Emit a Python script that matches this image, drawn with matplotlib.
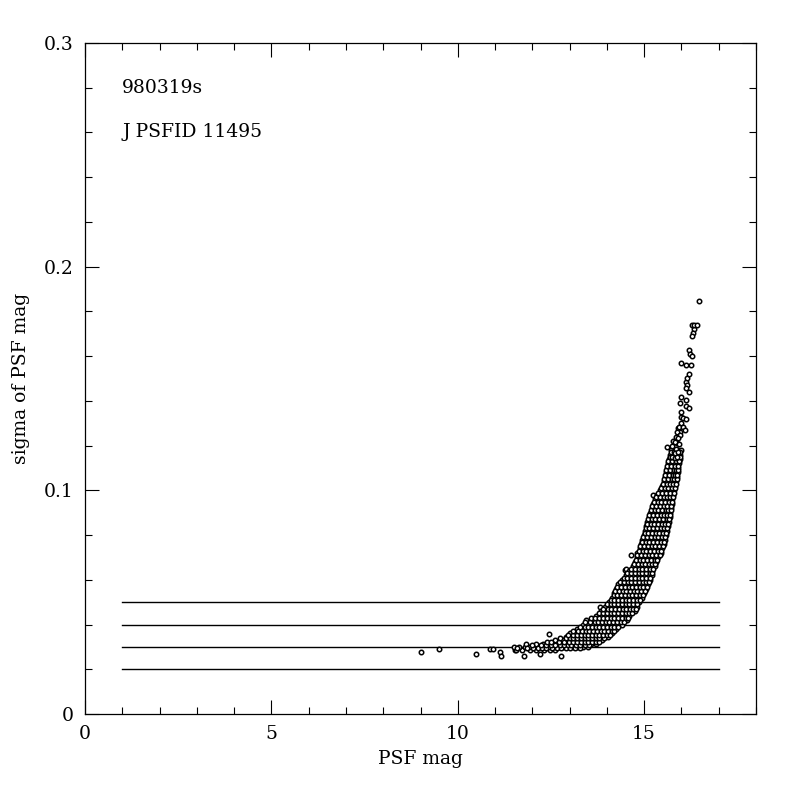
import matplotlib
matplotlib.use('Agg')
import matplotlib.pyplot as plt

# reference levels drawn across the plot
ref_levels = [0.02, 0.03, 0.04, 0.05]
ref_xmin, ref_xmax = 1, 17

# stragglers at the bright end / off-band points
out_mag = [9.0, 9.49, 10.5, 10.86, 10.95, 11.13, 11.15, 11.53, 11.78, 12.2,
           12.45, 12.76, 13.7, 13.81, 14.48, 14.52, 14.66, 15.23]
out_sig = [0.0279, 0.0289, 0.0268, 0.0289, 0.0289, 0.0279, 0.026, 0.0285, 0.026, 0.027,
           0.0358, 0.026, 0.0319, 0.048, 0.0644, 0.065, 0.0711, 0.098]

# main locus, read row by row (sigma, mags)
band_rows = [
    (0.0285, [11.55, 11.72, 11.95, 12.1, 12.3, 12.48, 12.62]),
    (0.0300, [11.5, 11.64, 11.8, 11.9, 12.05, 12.2, 12.32, 12.45, 12.58, 12.7, 12.82, 12.95, 13.08, 13.2, 13.35, 13.48]),
    (0.0315, [11.82, 12.1, 12.28, 12.42, 12.55, 12.66, 12.78, 12.9, 13.0, 13.1, 13.22, 13.32, 13.45, 13.58, 13.7]),
    (0.0330, [12.6, 12.82, 12.95, 13.05, 13.15, 13.25, 13.35, 13.45, 13.55, 13.65, 13.75, 13.88]),
    (0.0345, [12.9, 13.05, 13.15, 13.25, 13.35, 13.45, 13.55, 13.65, 13.75, 13.85, 13.95, 14.02]),
    (0.0360, [13.02, 13.15, 13.28, 13.38, 13.48, 13.58, 13.68, 13.78, 13.88, 13.98, 14.08, 14.15]),
    (0.0380, [13.2, 13.32, 13.45, 13.55, 13.65, 13.75, 13.85, 13.95, 14.05, 14.15, 14.25]),
    (0.0400, [13.35, 13.5, 13.62, 13.72, 13.82, 13.92, 14.02, 14.12, 14.22, 14.32, 14.4]),
    (0.0420, [13.45, 13.6, 13.74, 13.85, 13.95, 14.05, 14.15, 14.25, 14.35, 14.45, 14.55]),
    (0.0440, [13.7, 13.82, 13.94, 14.04, 14.14, 14.24, 14.34, 14.44, 14.52, 14.6]),
    (0.0460, [13.85, 13.97, 14.08, 14.18, 14.28, 14.38, 14.48, 14.58, 14.67, 14.75]),
    (0.0480, [13.95, 14.06, 14.16, 14.26, 14.36, 14.46, 14.56, 14.66, 14.74, 14.8]),
    (0.0500, [14.05, 14.15, 14.25, 14.35, 14.45, 14.55, 14.65, 14.75, 14.85]),
    (0.0520, [14.15, 14.25, 14.35, 14.45, 14.55, 14.65, 14.75, 14.85, 14.95]),
    (0.0540, [14.2, 14.3, 14.4, 14.5, 14.6, 14.7, 14.8, 14.9, 15.0]),
    (0.0560, [14.25, 14.36, 14.46, 14.56, 14.66, 14.76, 14.86, 14.96, 15.05]),
    (0.0580, [14.3, 14.42, 14.52, 14.62, 14.72, 14.82, 14.92, 15.02, 15.1]),
    (0.0600, [14.4, 14.5, 14.6, 14.7, 14.8, 14.9, 15.0, 15.08, 15.15]),
    (0.0620, [14.5, 14.6, 14.7, 14.8, 14.9, 15.0, 15.1, 15.2]),
    (0.0640, [14.6, 14.7, 14.8, 14.9, 15.0, 15.1, 15.22]),
    (0.0660, [14.7, 14.8, 14.9, 15.0, 15.1, 15.2, 15.28]),
    (0.0680, [14.75, 14.86, 14.96, 15.06, 15.16, 15.25, 15.32]),
    (0.0700, [14.8, 14.9, 15.0, 15.1, 15.2, 15.3, 15.38]),
    (0.0720, [14.82, 14.94, 15.04, 15.14, 15.24, 15.34, 15.45]),
    (0.0740, [14.88, 14.98, 15.08, 15.18, 15.28, 15.38, 15.48]),
    (0.0760, [14.92, 15.02, 15.12, 15.22, 15.32, 15.42, 15.52]),
    (0.0780, [14.95, 15.06, 15.16, 15.26, 15.36, 15.46, 15.55]),
    (0.0800, [15.0, 15.1, 15.2, 15.3, 15.4, 15.5, 15.58]),
    (0.0820, [15.02, 15.13, 15.23, 15.33, 15.43, 15.52, 15.6]),
    (0.0840, [15.05, 15.16, 15.26, 15.36, 15.46, 15.55, 15.63]),
    (0.0860, [15.08, 15.19, 15.29, 15.39, 15.49, 15.58, 15.66]),
    (0.0880, [15.12, 15.22, 15.32, 15.42, 15.52, 15.61, 15.68]),
    (0.0900, [15.15, 15.25, 15.35, 15.45, 15.55, 15.63, 15.7]),
    (0.0920, [15.2, 15.3, 15.4, 15.5, 15.6, 15.66, 15.72]),
    (0.0940, [15.24, 15.34, 15.44, 15.54, 15.64, 15.74]),
    (0.0960, [15.28, 15.38, 15.48, 15.58, 15.68, 15.76]),
    (0.0980, [15.35, 15.45, 15.55, 15.65, 15.72, 15.78]),
    (0.1000, [15.42, 15.52, 15.62, 15.72, 15.8]),
    (0.1020, [15.48, 15.58, 15.68, 15.76, 15.84]),
    (0.1040, [15.52, 15.62, 15.72, 15.8, 15.86]),
    (0.1060, [15.55, 15.65, 15.75, 15.82, 15.88]),
    (0.1080, [15.58, 15.68, 15.78, 15.85, 15.9]),
    (0.1100, [15.6, 15.7, 15.8, 15.87, 15.92]),
    (0.1120, [15.63, 15.73, 15.83, 15.93]),
    (0.1140, [15.66, 15.76, 15.86, 15.95]),
    (0.1160, [15.7, 15.8, 15.9, 15.96]),
    (0.1180, [15.72, 15.82, 15.92, 15.98]),
]

# in-between rows of the same locus
band_rows_b = [
    (0.0293, [11.6, 11.85, 12.02, 12.15, 12.26, 12.38, 12.52, 12.66, 12.76, 12.9, 13.02, 13.14, 13.28]),
    (0.0308, [12.0, 12.24, 12.37, 12.5, 12.62, 12.74, 12.86, 12.97, 13.05, 13.16, 13.27, 13.4, 13.52]),
    (0.0323, [12.4, 12.5, 12.72, 12.86, 12.98, 13.1, 13.2, 13.3, 13.4, 13.5, 13.6, 13.7, 13.8]),
    (0.0338, [12.75, 12.9, 13.0, 13.1, 13.2, 13.3, 13.4, 13.5, 13.6, 13.7, 13.8, 13.92]),
    (0.0352, [12.96, 13.1, 13.2, 13.3, 13.4, 13.5, 13.6, 13.7, 13.8, 13.9, 14.0, 14.08]),
    (0.0370, [13.1, 13.22, 13.33, 13.43, 13.53, 13.63, 13.73, 13.83, 13.93, 14.03, 14.13, 14.2]),
    (0.0390, [13.28, 13.4, 13.5, 13.6, 13.7, 13.8, 13.9, 14.0, 14.1, 14.2, 14.3]),
    (0.0410, [13.4, 13.55, 13.67, 13.77, 13.87, 13.97, 14.07, 14.17, 14.27, 14.37, 14.47]),
    (0.0430, [13.58, 13.68, 13.8, 13.9, 14.0, 14.1, 14.2, 14.3, 14.4, 14.5, 14.57]),
    (0.0450, [13.78, 13.9, 14.0, 14.1, 14.2, 14.3, 14.4, 14.5, 14.6, 14.68]),
    (0.0470, [13.9, 14.02, 14.12, 14.22, 14.32, 14.42, 14.52, 14.62, 14.71, 14.78]),
    (0.0490, [14.0, 14.1, 14.2, 14.3, 14.4, 14.5, 14.6, 14.7, 14.8]),
    (0.0510, [14.1, 14.2, 14.3, 14.4, 14.5, 14.6, 14.7, 14.8, 14.9]),
    (0.0530, [14.18, 14.28, 14.38, 14.48, 14.58, 14.68, 14.78, 14.88, 14.97]),
    (0.0550, [14.22, 14.32, 14.42, 14.52, 14.62, 14.72, 14.82, 14.92, 15.02]),
    (0.0570, [14.28, 14.38, 14.48, 14.58, 14.68, 14.78, 14.88, 14.98, 15.07]),
    (0.0590, [14.35, 14.46, 14.56, 14.66, 14.76, 14.86, 14.96, 15.05, 15.12]),
    (0.0610, [14.45, 14.55, 14.65, 14.75, 14.85, 14.95, 15.05, 15.16]),
    (0.0630, [14.55, 14.65, 14.75, 14.85, 14.95, 15.05, 15.15, 15.21]),
    (0.0650, [14.65, 14.75, 14.85, 14.95, 15.05, 15.15, 15.25]),
    (0.0670, [14.72, 14.83, 14.93, 15.03, 15.13, 15.22, 15.3]),
    (0.0690, [14.78, 14.88, 14.98, 15.08, 15.18, 15.28, 15.35]),
    (0.0710, [14.81, 14.92, 15.02, 15.12, 15.22, 15.32, 15.42]),
    (0.0730, [14.85, 14.96, 15.06, 15.16, 15.26, 15.36, 15.46]),
    (0.0750, [14.9, 15.0, 15.1, 15.2, 15.3, 15.4, 15.5]),
    (0.0770, [14.94, 15.04, 15.14, 15.24, 15.34, 15.44, 15.53]),
    (0.0790, [14.98, 15.08, 15.18, 15.28, 15.38, 15.48, 15.57]),
    (0.0810, [15.01, 15.11, 15.21, 15.31, 15.41, 15.51, 15.59]),
    (0.0830, [15.04, 15.14, 15.24, 15.34, 15.44, 15.54, 15.62]),
    (0.0850, [15.07, 15.17, 15.27, 15.37, 15.47, 15.57, 15.65]),
    (0.0870, [15.1, 15.2, 15.3, 15.4, 15.5, 15.6, 15.67]),
    (0.0890, [15.14, 15.24, 15.34, 15.44, 15.54, 15.62, 15.69]),
    (0.0910, [15.18, 15.28, 15.38, 15.48, 15.58, 15.65, 15.71]),
    (0.0930, [15.22, 15.32, 15.42, 15.52, 15.62, 15.73]),
    (0.0950, [15.26, 15.36, 15.46, 15.56, 15.66, 15.75]),
    (0.0970, [15.32, 15.42, 15.52, 15.62, 15.7, 15.77]),
    (0.0990, [15.38, 15.48, 15.58, 15.68, 15.79]),
    (0.1010, [15.45, 15.55, 15.65, 15.74, 15.82]),
    (0.1030, [15.5, 15.6, 15.7, 15.78, 15.85]),
    (0.1050, [15.54, 15.64, 15.74, 15.81, 15.87]),
    (0.1070, [15.57, 15.67, 15.77, 15.84, 15.89]),
    (0.1090, [15.59, 15.69, 15.79, 15.86, 15.91]),
    (0.1110, [15.62, 15.72, 15.82, 15.9]),
    (0.1130, [15.65, 15.75, 15.85, 15.94]),
    (0.1150, [15.68, 15.78, 15.88, 15.95]),
    (0.1170, [15.71, 15.81, 15.91, 15.97]),
]

# sparse faint tail
tail_mag = [15.6, 15.74, 15.85, 15.83, 15.74, 15.83, 15.88, 15.78, 15.85, 15.9, 15.96, 15.88, 15.92,
            15.99, 15.93, 16.05, 16.1, 15.87, 15.95, 15.9, 15.83, 15.93,
            16.0, 15.98, 16.03, 16.12, 15.98, 15.95, 16.12, 16.12, 16.2,
            16.12, 16.15, 16.12, 16.2, 16.15, 16.2, 16.0, 16.12, 16.26,
            16.2, 16.23, 16.28, 16.33, 16.31, 16.28, 16.27, 16.34, 16.41, 16.47]
tail_sig = [0.1195, 0.1198, 0.1185, 0.1167, 0.115, 0.1145, 0.115, 0.122, 0.124, 0.128, 0.126, 0.121, 0.117,
            0.130, 0.1285, 0.1285, 0.127, 0.126, 0.1247, 0.1234, 0.1217, 0.1207,
            0.135, 0.133, 0.1323, 0.1319, 0.1419, 0.139, 0.1404, 0.1377, 0.1368,
            0.1486, 0.147, 0.1458, 0.144, 0.150, 0.152, 0.157, 0.156, 0.156,
            0.1627, 0.161, 0.160, 0.172, 0.1705, 0.169, 0.174, 0.174, 0.174, 0.1848]

all_rows = band_rows + band_rows_b
band_mag = [m for s, ms in all_rows for m in ms]
band_sig = [s for s, ms in all_rows for m in ms]

mag = out_mag + band_mag + tail_mag
sig = out_sig + band_sig + tail_sig

plt.rcParams['font.family'] = 'DejaVu Serif'
plt.rcParams['font.size'] = 13.5

fig = plt.figure(figsize=(8, 8), dpi=100)
ax = fig.add_axes([0.10625, 0.1075, 0.83875, 0.83875])

for lev in ref_levels:
    ax.plot([ref_xmin, ref_xmax], [lev, lev], color='k', lw=1.0)

ax.plot(mag, sig, 'o', ms=3.2, mfc='white', mec='k', mew=1.1, ls='none')

ax.set_xlim(0, 18)
ax.set_ylim(0, 0.3)
ax.set_xticks([0, 5, 10, 15])
ax.set_xticklabels(['0', '5', '10', '15'])
ax.set_xticks(range(0, 19), minor=True)
ax.set_yticks([0, 0.1, 0.2, 0.3])
ax.set_yticklabels(['0', '0.1', '0.2', '0.3'])
ax.set_yticks([0.02 * i for i in range(16)], minor=True)
ax.tick_params(which='both', direction='in', top=True, right=True, width=0.8, colors='k')
ax.tick_params(which='major', length=10, pad=8)
ax.tick_params(which='minor', length=5)
for sp in ax.spines.values():
    sp.set_linewidth(0.9)

ax.text(1, 0.28, '980319s', ha='left', va='center')
ax.text(1, 0.26, 'J PSFID 11495', ha='left', va='center')

ax.set_xlabel('PSF mag', labelpad=5)
ax.set_ylabel('sigma of PSF mag', labelpad=10)

fig.savefig('out.png', dpi=100, facecolor='white')
